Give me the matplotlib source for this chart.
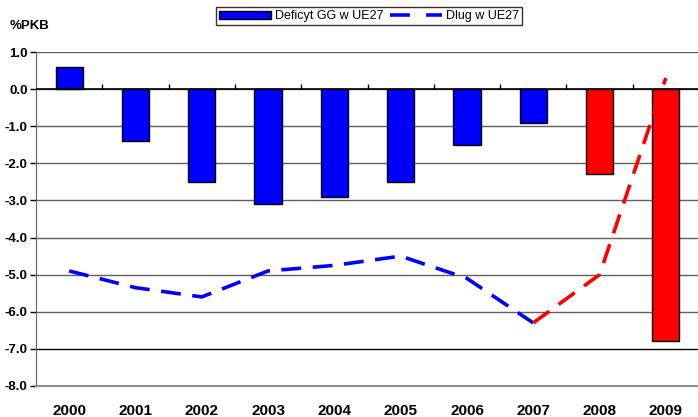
import matplotlib.pyplot as plt
import numpy as np
from matplotlib.lines import Line2D
from matplotlib.patches import Patch

# Data (% of GDP)
years = ["2000", "2001", "2002", "2003", "2004", "2005", "2006", "2007", "2008", "2009"]
deficit = [0.6, -1.4, -2.5, -3.1, -2.9, -2.5, -1.5, -0.9, -2.3, -6.8]
debt_line = [-4.9, -5.35, -5.6, -4.9, -4.75, -4.5, -5.1, -6.3, -5.0, 0.3]
y_ticks = [1.0, 0.0, -1.0, -2.0, -3.0, -4.0, -5.0, -6.0, -7.0, -8.0]
n_forecast = 2  # last two years drawn in red

plt.rcParams["font.family"] = ["Liberation Sans", "DejaVu Sans"]
plt.rcParams["axes.unicode_minus"] = False

fig = plt.figure(figsize=(6.98, 4.17), dpi=100)
ax = fig.add_axes([36 / 698, 31 / 417, 663 / 698, 334 / 417])

x = np.arange(len(years))
n_hist = len(years) - n_forecast
colors = ["#0000FF"] * n_hist + ["#FF0000"] * n_forecast

# Gridlines
for t in y_ticks:
    col = "black" if t == -7.0 else "#606060"
    ax.axhline(t, color=col, lw=1, zorder=0)

ax.bar(x, deficit, width=0.41, color=colors, edgecolor="black", lw=1, zorder=2)

# Zero line with small category ticks
ax.axhline(0, color="black", lw=1.2, zorder=3)
ax.vlines(x[:-1] + 0.5, 0, 0.13, color="black", lw=1, zorder=3)

# Dashed debt line: blue to 2007, red afterwards
dash = (5.5, 3.2)
ax.plot(x[: n_hist], debt_line[: n_hist], color="#0000FF", lw=2.6,
        dashes=dash, zorder=4)
ax.plot(x[n_hist - 1:], debt_line[n_hist - 1:], color="#FF0000", lw=2.6,
        dashes=dash, zorder=4)

ax.set_xlim(-0.5, len(years) - 0.5)
ax.set_ylim(-8.0, 1.0)
ax.set_yticks(y_ticks)
ax.set_yticklabels([f"{t:.1f}" for t in y_ticks], fontsize=9.5, fontweight="bold")
ax.set_xticks(x)
ax.set_xticklabels(years, fontsize=11, fontweight="bold")
ax.tick_params(axis="x", length=0, pad=13)
ax.tick_params(axis="y", length=4, width=1, direction="out", pad=2)

for s in ["top", "right"]:
    ax.spines[s].set_visible(False)
ax.spines["left"].set_color("#606060")
ax.spines["bottom"].set_color("#909090")
ax.spines["bottom"].set_linewidth(1.5)

fig.text(10 / 698, 1 - 26 / 417, "%PKB", fontsize=9.5, fontweight="bold",
         va="center", ha="left")

handles = [
    Patch(facecolor="#0000FF", edgecolor="black", lw=1),
    Line2D([0], [0], color="#0000FF", lw=2.6, dashes=(5.5, 4.5)),
]
leg = fig.legend(handles, ["Deficyt GG w UE27", "Dlug w UE27"], ncol=2,
                 loc="center", bbox_to_anchor=(369 / 698, 1 - 16 / 417),
                 fontsize=9, frameon=True, fancybox=False, handlelength=4.2,
                 handleheight=0.6, handletextpad=0.3, columnspacing=0.5,
                 borderpad=0.25, borderaxespad=0)
leg.get_frame().set_edgecolor("black")
leg.get_frame().set_linewidth(1)

fig.savefig("out.png", dpi=100)
